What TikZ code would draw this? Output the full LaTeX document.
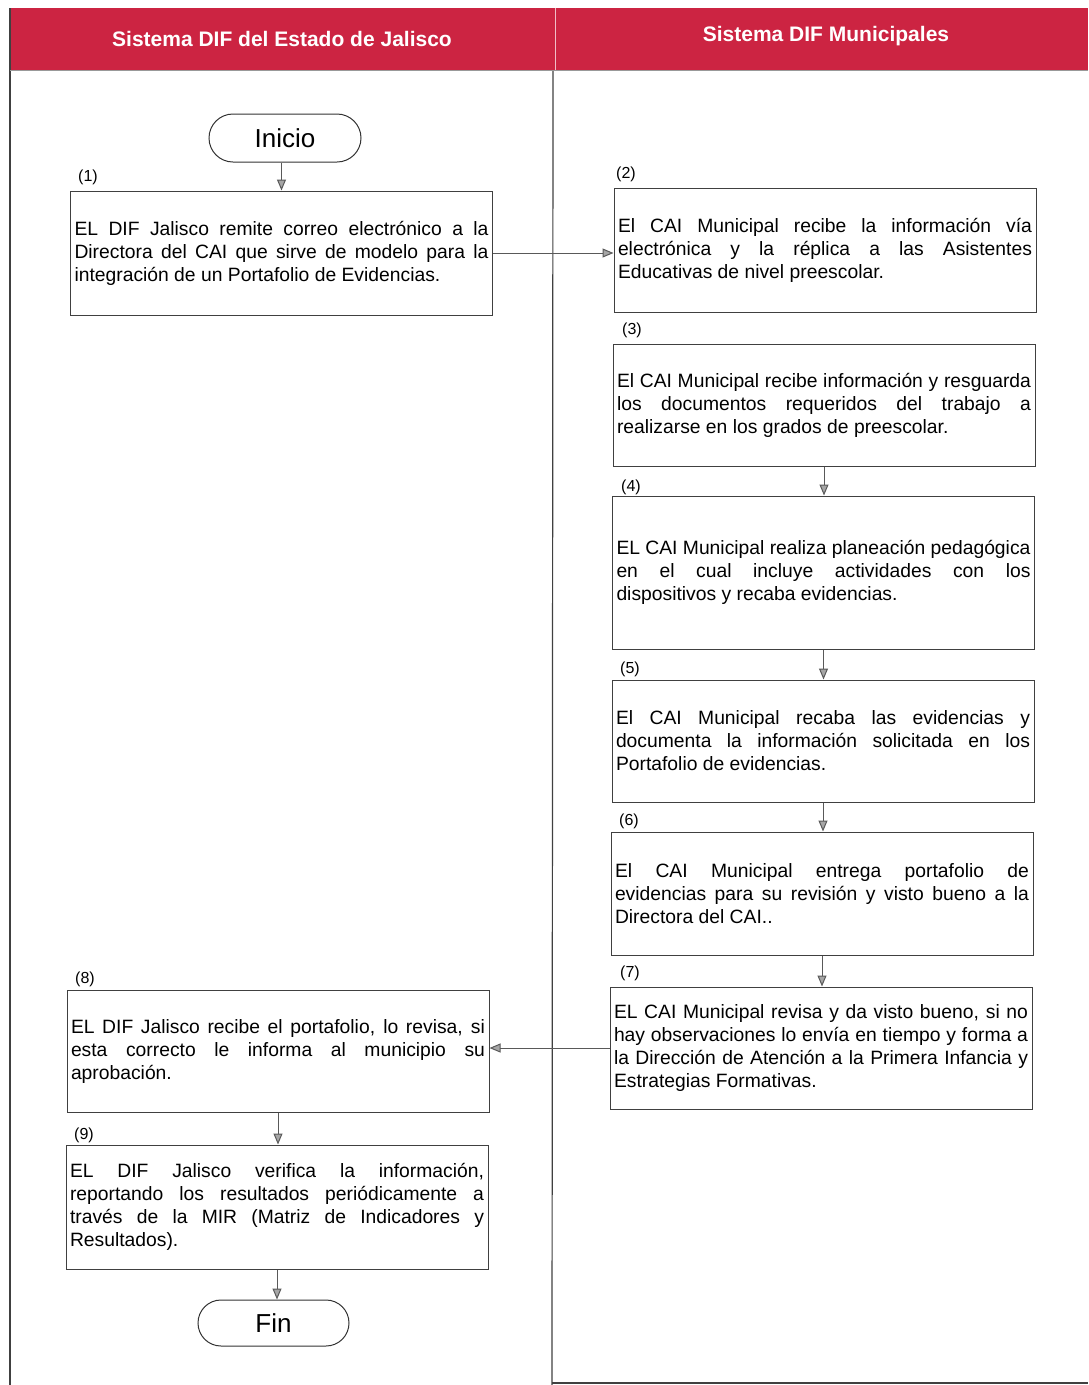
\documentclass[tikz,border=0pt]{standalone}
\usepackage{fontspec}
\setmainfont{Liberation Sans}
\usetikzlibrary{arrows.meta}
\definecolor{hdr}{RGB}{204,36,66}
\begin{document}
\begin{tikzpicture}[x=1pt,y=-1pt,
 box/.style={draw=black!75, line width=1pt, minimum width=422pt, text width=414pt, inner xsep=4pt, inner ysep=0pt, align=justify, font=\fontsize{19.3}{23}\selectfont},
 num/.style={anchor=west, font=\fontsize{16}{18}\selectfont, inner sep=0pt},
 term/.style={draw=black!80, line width=1pt, rounded corners=24pt, minimum width=152pt, minimum height=48pt, font=\fontsize{26}{30}\selectfont},
 flow/.style={draw=black!65, line width=1pt, -{Triangle[width=9pt,length=11pt,fill=black!35]}},
 hdrtext/.style={text=white, font=\bfseries\fontsize{21}{24}\selectfont},
 frame/.style={draw=black!75, line width=1.2pt}
]
\useasboundingbox (0,0) rectangle (1088,1385);
% header band
\fill[hdr] (10,8) rectangle (1088,70);
\draw[white!70!hdr, line width=0.8pt] (555,8) -- (555,70);
\node[hdrtext] (h1) at (282,39) {Sistema DIF del Estado de Jalisco};
\node[hdrtext] (h2) at (826,36) {Sistema DIF Municipales};
% frame
\coordinate (fl1) at (10,8);
\coordinate (fl2) at (10,1385);
\coordinate (dv1) at (553,70);
\coordinate (dv2) at (552,1385);
\coordinate (bt1) at (552,1383);
\coordinate (bt2) at (1088,1383);
\draw[frame] (fl1) -- (fl2);
\draw[frame] (dv1) -- (dv2);
\draw[frame] (bt1) -- (bt2);
\draw[black!40, line width=0.6pt] (10,70) -- (1088,70);
% terminals
\node[term] (ini) at (285,138) {Inicio};
\node[term, minimum width=151pt, minimum height=46pt, rounded corners=23pt] (fin) at (273.5,1323) {Fin};
% labels
\node[num] (l1) at (78,177) {(1)};
\node[num] (l2) at (616,174) {(2)};
\node[num] (l3) at (622,330) {(3)};
\node[num] (l4) at (621,487) {(4)};
\node[num] (l5) at (620,669) {(5)};
\node[num] (l6) at (619,821) {(6)};
\node[num] (l7) at (620,973) {(7)};
\node[num] (l8) at (75,979) {(8)};
\node[num] (l9) at (74,1135) {(9)};
% boxes
\node[box, minimum height=124pt] (b1) at (281.5,253) {EL DIF Jalisco remite correo electrónico a la\linebreak Directora del CAI que sirve de modelo para la\linebreak integración de un Portafolio de Evidencias.};
\node[box, minimum height=124pt] (b2) at (825,250) {El CAI Municipal recibe la información vía\linebreak electrónica y la réplica a las Asistentes\linebreak Educativas de nivel preescolar.};
\node[box, minimum height=122pt] (b3) at (824,405) {El CAI Municipal recibe información y resguarda\linebreak los documentos requeridos del trabajo a\linebreak realizarse en los grados de preescolar.};
\node[box, minimum height=153pt] (b4) at (823.5,572.5) {EL CAI Municipal realiza planeación pedagógica\linebreak en el cual incluye actividades con los\linebreak dispositivos y recaba evidencias.};
\node[box, minimum height=122pt] (b5) at (823,741) {El CAI Municipal recaba las evidencias y\linebreak documenta la información solicitada en los\linebreak Portafolio de evidencias.};
\node[box, minimum height=123pt] (b6) at (822,893.5) {El CAI Municipal entrega portafolio de\linebreak evidencias para su revisión y visto bueno a la\linebreak Directora del CAI..};
\node[box, minimum height=122pt] (b7) at (821,1048) {EL CAI Municipal revisa y da visto bueno, si no\linebreak hay observaciones lo envía en tiempo y forma a\linebreak la Dirección de Atención a la Primera Infancia y\linebreak Estrategias Formativas.};
\node[box, minimum height=122pt] (b8) at (278,1051) {EL DIF Jalisco recibe el portafolio, lo revisa, si\linebreak esta correcto le informa al municipio su\linebreak aprobación.};
\node[box, minimum height=124pt] (b9) at (277,1207) {EL DIF Jalisco verifica la información,\linebreak reportando los resultados periódicamente a\linebreak través de la MIR (Matriz de Indicadores y\linebreak Resultados).};
% connectors
\draw[flow] (b1.north |- ini.south) -- (b1.north);
\draw[flow] (b1.east) -- (b1.east -| b2.west);
\draw[flow] (b3.south) -- (b3.south |- b4.north);
\draw[flow] (b4.south) -- (b4.south |- b5.north);
\draw[flow] (b5.south) -- (b5.south |- b6.north);
\draw[flow] (b6.south) -- (b6.south |- b7.north);
\draw[flow] (b7.west) -- (b7.west -| b8.east);
\draw[flow] (b8.south) -- (b8.south |- b9.north);
\draw[flow] (b9.south) -- (b9.south |- fin.north);
\end{tikzpicture}
\end{document}
